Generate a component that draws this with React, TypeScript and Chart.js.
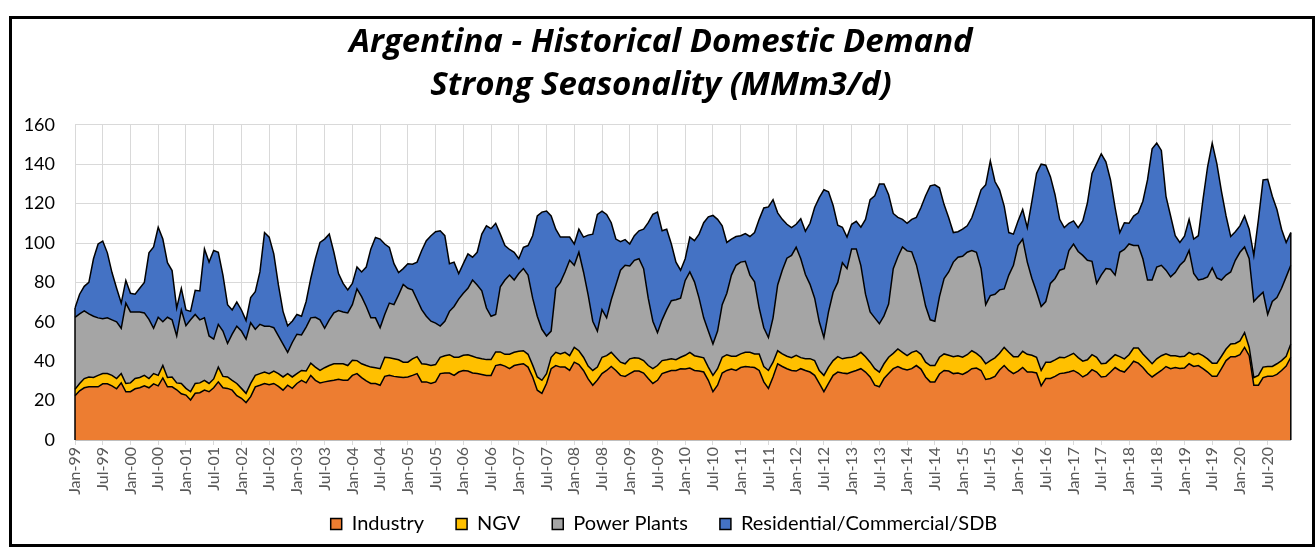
import { useEffect, useRef } from 'react';
import { Chart, registerables } from 'chart.js';

Chart.register(...registerables);

const MONTHS = ['Jan', 'Feb', 'Mar', 'Apr', 'May', 'Jun', 'Jul', 'Aug', 'Sep', 'Oct', 'Nov', 'Dec'];
const YEARS = ['99', '00', '01', '02', '03', '04', '05', '06', '07', '08', '09', '10', '11', '12', '13', '14', '15', '16', '17', '18', '19', '20'];
const labels: string[] = YEARS.flatMap((y) => MONTHS.map((m) => `${m}-${y}`));

const industry = [
  22.5, 25, 26.5, 27, 27, 27, 28.5, 28.5, 27.5, 26, 29, 24.5,
  24.5, 26, 26.5, 27.5, 26.5, 28.5, 27.5, 31.5, 27, 27, 25.5, 23.5,
  22.8, 20.3, 23.7, 24, 25.3, 24.5, 26.5, 29.5, 26.5, 26.2, 25.3, 22.5,
  21.2, 19, 22, 27, 27.8, 28.7, 28, 28.7, 27.2, 25.3, 27.8, 26.2,
  28.7, 30.3, 29, 32.8, 30.3, 29, 29.5, 30, 30.3, 30.8, 30.3, 30.3,
  32.8, 33.7, 31.7, 30, 28.7, 28.7, 27.8, 32.3, 32.8, 32.3, 32, 31.7,
  32, 32.8, 33.7, 29.5, 29.5, 28.7, 29.5, 33.7, 34, 34, 32.8, 34.5,
  35.3, 35, 34, 33.7, 33.3, 32.8, 32.8, 37.8, 38.3, 37.5, 36.2, 37.8,
  38.3, 38.7, 37, 32, 25.3, 23.7, 28.7, 36.2, 37.8, 37, 37, 35.3,
  39.5, 38.3, 35.3, 31, 27.8, 30.5, 33.7, 35.3, 37.3, 35.3, 32.8, 32.3,
  33.7, 35, 35, 34, 31.2, 28.7, 30.3, 33.7, 34.5, 35.3, 35.3, 36.2,
  36, 36.5, 35.3, 35, 34.5, 30.3, 24.5, 27.8, 34, 35.3, 36, 35.3,
  36.8, 37.3, 37, 36.8, 35.3, 29.5, 26.2, 32, 38.7, 37.3, 36.2, 35.3,
  35, 36.2, 35.3, 34.5, 32.8, 28.7, 24.5, 28.7, 32.8, 34.5, 34, 33.7,
  34.5, 35.3, 36.2, 34.5, 32, 27.8, 27, 31.2, 33.7, 36.2, 37.3, 36.2,
  35.5, 36.2, 37.8, 36, 32, 29.5, 29.5, 33.5, 35.3, 35, 33.7, 34,
  33.3, 34.5, 36.2, 36.5, 35.3, 30.7, 31.2, 32.3, 35.5, 37.8, 35.3, 33.7,
  35, 36.8, 34.5, 34.5, 34, 27.5, 31.2, 31.2, 32.3, 33.7, 34, 34.5,
  35.3, 34, 32, 33.3, 35.7, 34.5, 32, 32.3, 34.5, 36.8, 35.3, 34.5,
  37, 40, 39, 36.8, 34, 32, 33.7, 35.3, 37.3, 36.2, 36.8, 36.3,
  36.5, 38.7, 37.3, 37.8, 36.2, 34.5, 32.3, 32.3, 36.2, 40.3, 42.3, 42.3,
  43.3, 47, 42.8, 27.8, 27.8, 31.7, 32.3, 32.3, 33.3, 35.3, 37.5, 42,
];

const ngv = [
  3.2, 3.7, 4.7, 5, 4.7, 5.8, 5.2, 5.2, 5.3, 5.2, 4.7, 4.2,
  4.5, 5.2, 5.2, 5.3, 4.7, 5.2, 5.3, 6.3, 4.7, 5, 3.5, 5.2,
  3.4, 4.2, 5, 5, 5, 4.2, 4.5, 7.5, 5.8, 5.8, 5, 6.2,
  5, 4.7, 6.7, 5.8, 5.9, 5.8, 5.7, 6.3, 6.5, 6.7, 5.9, 5.8,
  5, 5, 6, 6.2, 6.7, 6.3, 7.2, 7.8, 8.4, 7.9, 8.4, 7.5,
  7.7, 6.6, 7, 7.8, 8.3, 8, 8.4, 9.7, 8.9, 8.9, 8.7, 7.8,
  7.5, 8.4, 8.6, 9.2, 8.9, 9.1, 8.8, 8.3, 8.8, 9.3, 9.2, 7.5,
  7.7, 8.3, 8.5, 8, 7.9, 8, 8, 6.9, 6.4, 6, 7.3, 6.7,
  6.7, 6.6, 6.5, 6, 6.7, 6.6, 5, 5.8, 6.7, 6.7, 7.5, 7.5,
  7.5, 7, 6.7, 6.5, 7.5, 6.5, 8.3, 7.5, 7.2, 6.7, 6.7, 6.4,
  7.5, 6.7, 6.5, 6.3, 6.6, 7.5, 7.5, 6.6, 6.2, 5.9, 5.5, 5.8,
  7, 8, 7.5, 7.3, 7.2, 6.7, 8.3, 8.4, 8, 8, 6.5, 7.2,
  6.9, 7.2, 7.5, 6.9, 8.4, 7.8, 9.1, 7.5, 6.6, 6.4, 6.3, 6.5,
  8, 5.6, 6, 6.8, 7.5, 6.6, 8.3, 8.3, 7.5, 7.8, 7.2, 8,
  7.5, 7.5, 8.3, 7.8, 7.5, 8.4, 7.5, 7.5, 8.3, 7.8, 8.9, 8.3,
  7.3, 8.3, 7.5, 7.5, 7.5, 8.3, 8.3, 8.5, 8.4, 8, 8.6, 8.8,
  8.7, 8.8, 9.1, 7.5, 6.7, 8, 9.1, 9.4, 8.5, 9.2, 9.2, 8.6,
  7.3, 8.2, 9, 8.5, 8, 7.8, 8.3, 8.3, 8.4, 8.3, 7.7, 8.3,
  8.7, 7.8, 8, 7.4, 7.6, 7.5, 6.7, 6.7, 6.7, 6.5, 7, 6.7,
  6.3, 6.7, 7.7, 6.9, 7.2, 6.7, 7.5, 7.5, 6.4, 6.6, 6, 6,
  6, 5.8, 6, 6.2, 6.6, 6.7, 6.7, 6.7, 6.3, 5.9, 6.4, 6.7,
  7, 7.5, 4.2, 3.9, 5, 5.3, 5, 5, 5.4, 5, 5, 6.7,
];

const powerPlants = [
  36.6, 35.3, 34.3, 32, 31.1, 29.2, 27.8, 28.3, 28.2, 28.8, 23, 40.8,
  36, 33.8, 33.3, 31.7, 30, 23, 29.5, 22.2, 30.6, 29, 23.8, 37.3,
  31.8, 36.5, 35, 32, 31.7, 24.1, 20.2, 21.7, 23, 17, 23.4, 29.1,
  29.1, 27.5, 30.8, 23.4, 25, 23.3, 24.1, 22, 19.1, 16.7, 10.8, 17.5,
  20, 18, 22.3, 23, 25.3, 25.7, 20, 23.2, 25.8, 27, 26.3, 26.7,
  28.2, 36.4, 34.1, 30, 25, 25.3, 20.8, 21.7, 27.8, 27.5, 33, 39.5,
  37.5, 35, 28.9, 27.5, 24.4, 22.5, 21, 15.8, 17.5, 22, 25.8, 29.5,
  31.5, 33.7, 38.7, 37, 34.5, 26.2, 22, 19, 33.1, 37.7, 40.2, 36.7,
  39.5, 41.7, 40.2, 34, 30.8, 25.9, 19.1, 13.3, 32.5, 36.3, 40.8, 48.4,
  41.7, 50, 43.3, 36.2, 25, 18.3, 24.2, 19.2, 26.7, 36.7, 46.7, 50,
  47.1, 49.5, 50.5, 46.7, 34.2, 24.1, 16.7, 20.7, 25.5, 29.5, 30.4, 30,
  38, 40.8, 37.5, 29.7, 20.3, 18.3, 15.9, 19.1, 26.7, 31.2, 41.2, 46.2,
  46.6, 46.2, 39.2, 36.6, 23.3, 19.7, 16.7, 22.5, 33.4, 42.5, 49.8, 51.9,
  54.8, 50.2, 42.7, 37.7, 31.7, 24.7, 19.2, 28, 34.7, 37.7, 48.8, 45.3,
  55, 54.2, 44, 31.7, 25.5, 25.8, 24.5, 24.3, 27, 43, 46.8, 53.5,
  53.2, 51, 43.7, 35.5, 28.5, 23.2, 22.5, 30.8, 38.3, 42.3, 48, 50,
  51.3, 52, 50.9, 51.3, 45, 30, 33, 32.3, 32.2, 29.7, 39.2, 46.4,
  56.4, 57, 46.8, 39, 33.3, 32.5, 30.8, 40, 41.3, 44.2, 45.3, 53.4,
  55.5, 53.9, 53.7, 50.5, 47.4, 37.5, 45, 48, 45.5, 40.4, 53, 55.5,
  56.2, 52, 52, 48.3, 40, 42.5, 46.6, 45.9, 42.5, 40, 42.2, 46.4,
  48.5, 51.7, 41.2, 37.2, 38.9, 41.6, 48.3, 43.3, 38.7, 37.5, 36.6, 42.2,
  45, 43.5, 45, 38.6, 40, 38, 26.4, 33, 33.6, 36.7, 40.3, 40,
];

const residential = [
  4.7, 10, 12.5, 16, 29.2, 37.5, 39.5, 33, 24, 17, 12.8, 11.5,
  9.5, 9, 12, 15.5, 33.8, 41.3, 45.7, 42, 27.7, 25, 14.2, 11,
  8, 4.3, 12.3, 14.7, 35, 37.5, 45, 36.6, 28.4, 19.7, 12.3, 12.2,
  10.7, 9.5, 12.8, 19.1, 26.6, 47.5, 45.2, 37.5, 25.9, 16.6, 13.5, 10.8,
  10, 9.5, 13, 20, 29.7, 39.3, 45.3, 43.5, 30.8, 18.8, 14.5, 11.7,
  10.8, 11.1, 12.5, 20, 35, 40.8, 45, 35.8, 28.3, 20.8, 11.3, 8,
  12.5, 13, 19.1, 30, 38.4, 43.4, 46.4, 48.4, 43.4, 24.2, 22.5, 13,
  15, 17.5, 11.6, 16.6, 28.8, 41.7, 44.5, 46.3, 26.7, 17.5, 13, 14.1,
  7.5, 10.8, 15, 31.7, 50.9, 59.5, 63.4, 58.4, 30, 23, 17.7, 11.8,
  10.8, 11.7, 17.7, 30.3, 44.2, 59.2, 50, 52.5, 39.1, 23.3, 14.5, 13,
  11.2, 12.5, 14.2, 20, 38.3, 54.2, 61.2, 45.2, 40.8, 28.8, 19.1, 14.2,
  11, 17.7, 20.9, 32.5, 48.3, 58, 65.3, 56.7, 40, 25.8, 18.3, 14.6,
  13.4, 14.1, 19.6, 25, 45, 60.8, 66.3, 60, 36.6, 25.8, 17.2, 14.1,
  11.7, 20.3, 22, 31, 46, 63, 75, 61, 44, 29, 18, 16,
  12.5, 14, 19.5, 38, 57, 62, 71, 67, 55.5, 28, 20, 14,
  14, 16.5, 24, 39, 56, 68, 69.2, 55.2, 37.5, 27.5, 15, 12.9,
  13.7, 13.4, 16.6, 24.2, 40, 60.8, 68.4, 57.2, 50.8, 42, 21.6, 15.8,
  12.5, 15, 17.5, 39.2, 60, 72.2, 69.2, 54.2, 42.5, 25.8, 20.8, 13.8,
  11.7, 12.1, 17.5, 29.1, 44.6, 60.8, 61.6, 54.2, 45.3, 34.1, 10, 13.6,
  10.5, 15, 16.6, 29.2, 50.8, 66.6, 62.9, 58.3, 37.5, 30.9, 18.7, 11.6,
  12.5, 15.8, 17.5, 22.5, 40.3, 55.9, 63.4, 58, 45, 30, 18, 14.5,
  13.4, 15.7, 15, 23.4, 39.2, 57, 68.6, 53.4, 44.7, 30, 17.5, 16.6,
];

const yTicks = [0, 20, 40, 60, 80, 100, 120, 140, 160];

const FONT = 'Lato, "Open Sans", sans-serif';
const TITLE_FONT = '"Open Sans", Lato, sans-serif';

// nudges title/legend to the reference centre and draws the closing vertical
// edges of the stacked areas (as Excel outlines them)
const edgePlugin = {
  id: 'areaEdges',
  afterLayout(chart: any) {
    if (chart.legend) {
      chart.legend.left += 11;
      chart.legend.right += 11;
    }
    if (chart.titleBlock) {
      chart.titleBlock.left += 8;
      chart.titleBlock.right += 8;
    }
  },
  afterDatasetsDraw(chart: any) {
    const { ctx, scales } = chart;
    const x = scales.x;
    const y = scales.y;
    const n = chart.data.labels.length;
    ctx.save();
    ctx.strokeStyle = '#000000';
    ctx.lineWidth = 1.5;
    [0, n - 1].forEach((i) => {
      let total = 0;
      chart.data.datasets.forEach((d: any) => { total += d.data[i]; });
      const px = x.getPixelForValue(i);
      ctx.beginPath();
      ctx.moveTo(px, y.getPixelForValue(0));
      ctx.lineTo(px, y.getPixelForValue(total));
      ctx.stroke();
    });
    ctx.restore();
  },
};

export default function App() {
  const ref = useRef<HTMLCanvasElement>(null);

  useEffect(() => {
    if (!ref.current) return;
    const mk = (label: string, data: number[], color: string, fill: any) => ({
      label,
      data,
      backgroundColor: color,
      borderColor: '#000000',
      borderWidth: 1.5,
      pointRadius: 0,
      pointHoverRadius: 0,
      tension: 0,
      fill,
    });
    const chart = new Chart(ref.current, {
      type: 'line',
      data: {
        labels,
        datasets: [
          mk('Industry', industry, '#ED7D31', 'origin'),
          mk('NGV', ngv, '#FFC000', '-1'),
          mk('Power Plants', powerPlants, '#A5A5A5', '-1'),
          mk('Residential/Commercial/SDB', residential, '#4472C4', '-1'),
        ],
      },
      plugins: [edgePlugin],
      options: {
        animation: false,
        responsive: true,
        maintainAspectRatio: false,
        layout: { padding: { left: 0, right: 18, top: 0, bottom: 0 } },
        plugins: {
          title: {
            display: true,
            text: ['Argentina - Historical Domestic Demand', 'Strong Seasonality (MMm3/d)'],
            color: '#000000',
            font: { family: TITLE_FONT, size: 33, weight: 'bold', style: 'italic', lineHeight: 1.3 },
            padding: { top: 2, bottom: 18 },
          },
          legend: {
            position: 'bottom',
            labels: {
              color: '#000000',
              font: { family: FONT, size: 20 },
              boxWidth: 11,
              boxHeight: 11,
              padding: 32,
            },
          },
          tooltip: { enabled: false },
        },
        scales: {
          x: {
            stacked: true,
            offset: false,
            afterFit: (s: any) => {
              s.height = 42;
              s._computeLabelArea = () => undefined;
            },
            grid: {
              color: (c: any) => (c.index % 6 === 0 ? '#d9d9d9' : 'rgba(0,0,0,0)'),
              lineWidth: 1,
              tickLength: 5,
            },
            border: { display: true, color: '#bfbfbf' },
            ticks: {
              autoSkip: false,
              minRotation: 90,
              maxRotation: 90,
              padding: 2,
              color: '#595959',
              font: { family: FONT, size: 16 },
              callback: (_v: any, i: number) => (i % 6 === 0 ? labels[i] : ''),
            },
          },
          y: {
            stacked: true,
            min: 0,
            max: 160,
            afterFit: (s: any) => { s.width = 63; },
            afterBuildTicks: (s: any) => { s.ticks = yTicks.map((v) => ({ value: v })); },
            grid: { color: '#d9d9d9', lineWidth: 1, drawTicks: false },
            border: { display: false },
            ticks: {
              padding: 20,
              color: '#000000',
              font: { family: FONT, size: 18 },
            },
          },
        },
      },
    });
    return () => chart.destroy();
  }, []);

  return (
    <div style={{ position: 'absolute', left: 0, top: 0, width: 1316, height: 551, overflow: 'hidden', background: '#ffffff' }}>
      <div
        style={{
          position: 'absolute',
          left: 9,
          top: 16,
          width: 1300,
          height: 525,
          border: '3px solid #000000',
          background: '#ffffff',
        }}
      >
        <canvas ref={ref} />
      </div>
    </div>
  );
}
